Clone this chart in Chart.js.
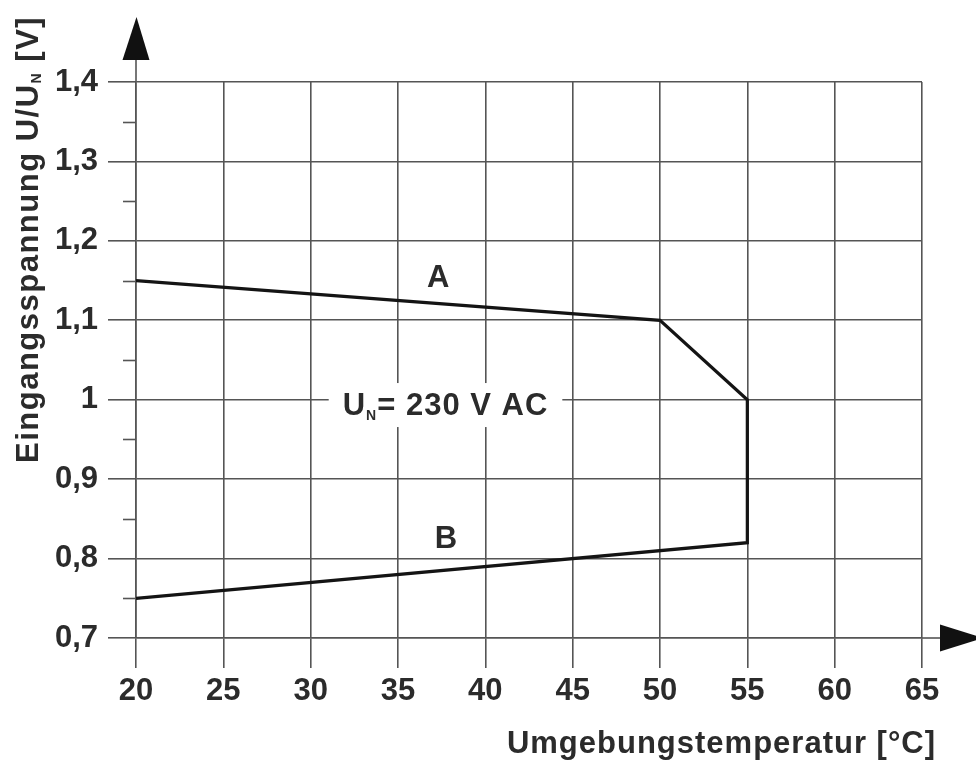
<!DOCTYPE html>
<html><head><meta charset="utf-8">
<script src="https://cdn.jsdelivr.net/npm/chart.js@4.4.1/dist/chart.umd.min.js"></script>
<style>html,body{margin:0;padding:0;background:#fff}#wrap{width:976px;height:764px;position:relative}</style>
</head><body><div id="wrap"><canvas id="c"></canvas></div>
<script>
// ---- data ----
const temperatures = [20, 50, 55, 55, 20];
const inputVoltage = [1.15, 1.10, 1.00, 0.82, 0.75];
const xTickValues = [20, 25, 30, 35, 40, 45, 50, 55, 60, 65];
const yTickValues = [0.7, 0.8, 0.9, 1.0, 1.1, 1.2, 1.3, 1.4];
const yTickLabels = ['0,7', '0,8', '0,9', '1', '1,1', '1,2', '1,3', '1,4'];
const yMinorTickValues = [0.75, 0.85, 0.95, 1.05, 1.15, 1.25, 1.35];
const curveLabelTexts = ['A', 'B'];
const curveLabelX = [37.3, 37.75];
const curveLabelY = [1.142, 0.8133];
const ratedText = ['U', 'N', '= 230 V AC'];
const ratedX = 37.72, ratedY = 0.9807;
const xTitle = 'Umgebungstemperatur [°C]';
const yTitle = ['Eingangsspannung U/U', 'N', ' [V]'];

// ---- styles ----
const FONT = '"Liberation Sans", Arial, Helvetica, sans-serif';
const TXT = '#2b2b2b';
const GRID = '#555555';
const GW = 1.6;

function setLS(ctx, v) { if ('letterSpacing' in ctx) ctx.letterSpacing = v + 'px'; }

function richWidth(ctx, parts, size, subSize, ls) {
  let w = 0;
  parts.forEach((p, i) => {
    ctx.font = 'bold ' + (i === 1 ? subSize : size) + 'px ' + FONT;
    setLS(ctx, ls);
    w += ctx.measureText(p).width;
  });
  return w;
}
function drawRich(ctx, parts, x, y, size, subSize, subOff, ls) {
  parts.forEach((p, i) => {
    const sub = i === 1;
    ctx.font = 'bold ' + (sub ? subSize : size) + 'px ' + FONT;
    setLS(ctx, ls);
    ctx.fillText(p, x, sub ? y + subOff : y);
    x += ctx.measureText(p).width;
  });
}

const decorPlugin = {
  id: 'decor',
  afterDraw(chart) {
    const ctx = chart.ctx;
    const xs = chart.scales.x, ys = chart.scales.y;
    const ca = chart.chartArea;
    ctx.save();
    // minor ticks
    ctx.strokeStyle = GRID; ctx.lineWidth = GW;
    yMinorTickValues.forEach(v => {
      const py = Math.round(ys.getPixelForValue(v)) + 0.5;
      ctx.beginPath(); ctx.moveTo(ca.left - 13, py); ctx.lineTo(ca.left, py); ctx.stroke();
    });
    // axis extensions + arrows
    ctx.beginPath(); ctx.moveTo(ca.left, ca.top); ctx.lineTo(ca.left, 58); ctx.stroke();
    ctx.beginPath(); ctx.moveTo(ca.right, ca.bottom); ctx.lineTo(942, ca.bottom); ctx.stroke();
    ctx.fillStyle = '#111';
    ctx.beginPath(); ctx.moveTo(ca.left - 13.5, 60); ctx.lineTo(ca.left + 13.5, 60); ctx.lineTo(ca.left + 0.5, 17); ctx.closePath(); ctx.fill();
    ctx.beginPath(); ctx.moveTo(940, ca.bottom - 13.5); ctx.lineTo(940, ca.bottom + 13.5); ctx.lineTo(983, ca.bottom); ctx.closePath(); ctx.fill();

    ctx.fillStyle = TXT;
    ctx.textBaseline = 'alphabetic';
    ctx.textAlign = 'left';
    // curve labels
    curveLabelTexts.forEach((t, i) => {
      ctx.font = 'bold 31px ' + FONT; setLS(ctx, 0);
      const w = ctx.measureText(t).width;
      ctx.fillText(t, xs.getPixelForValue(curveLabelX[i]) - w / 2, ys.getPixelForValue(curveLabelY[i]));
    });
    // rated voltage label with white box
    const rw = richWidth(ctx, ratedText, 31, 14, 1);
    const rcx = xs.getPixelForValue(ratedX), rby = ys.getPixelForValue(ratedY);
    ctx.fillStyle = '#fff';
    ctx.fillRect(rcx - rw / 2 - 14, rby - 32, rw + 28, 44);
    ctx.fillStyle = TXT;
    drawRich(ctx, ratedText, rcx - rw / 2, rby, 31, 14, 5, 1);
    // x title
    ctx.font = 'bold 31px ' + FONT; setLS(ctx, 1);
    const xw = ctx.measureText(xTitle).width;
    ctx.fillText(xTitle, 936 - xw, 753);
    // y title
    ctx.translate(38, 463);
    ctx.rotate(-Math.PI / 2);
    drawRich(ctx, yTitle, 0, 0, 31, 14, 3, 1.5);
    ctx.restore();
  }
};

new Chart(document.getElementById('c'), {
  type: 'scatter',
  data: {
    datasets: [{
      data: temperatures.map((t, i) => ({ x: t, y: inputVoltage[i] })),
      showLine: true,
      borderColor: '#141414',
      borderWidth: 3.2,
      borderJoinStyle: 'miter',
      pointRadius: 0,
      tension: 0,
      fill: false
    }]
  },
  options: {
    responsive: true,
    maintainAspectRatio: false,
    animation: false,
    events: [],
    layout: { padding: { left: 0, top: 82, right: 54, bottom: 0 } },
    plugins: { legend: { display: false }, tooltip: { enabled: false } },
    scales: {
      x: {
        type: 'linear', min: 20, max: 65,
        afterBuildTicks: s => { s.ticks = xTickValues.map(v => ({ value: v })); },
        afterFit: s => { s.height = 126; },
        ticks: { color: TXT, font: { family: FONT, size: 31, weight: 'bold' }, padding: 5, maxRotation: 0, autoSkip: false,
          callback: v => String(v) },
        grid: { color: GRID, lineWidth: GW, tickLength: 30, tickColor: GRID, drawTicks: true },
        border: { display: true, color: GRID, width: GW }
      },
      y: {
        type: 'linear', min: 0.7, max: 1.4,
        afterBuildTicks: s => { s.ticks = yTickValues.map(v => ({ value: v })); },
        afterFit: s => { s.width = 136; },
        ticks: { color: TXT, font: { family: FONT, size: 31, weight: 'bold' }, padding: 10, autoSkip: false,
          callback: (v, i) => yTickLabels[i] },
        grid: { color: GRID, lineWidth: GW, tickLength: 28, tickColor: GRID, drawTicks: true },
        border: { display: true, color: GRID, width: GW }
      }
    }
  },
  plugins: [decorPlugin]
});
</script></body></html>
